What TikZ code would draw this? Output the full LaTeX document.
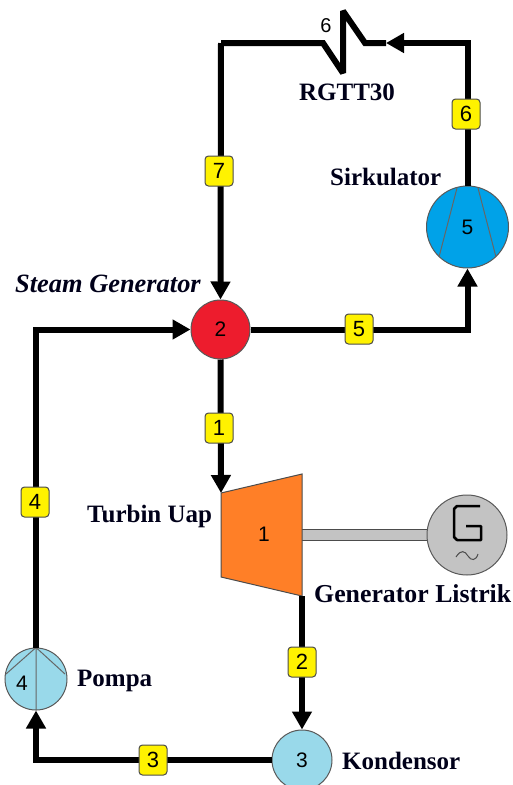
\documentclass[tikz,border=0pt]{standalone}
\usepackage{fontspec}
\setmainfont{Liberation Serif}
\newfontfamily\lsans{Liberation Sans}
\usetikzlibrary{arrows.meta}
\tikzset{
  x=1pt,y=-1pt,
  pipe/.style={line width=6pt,black,line join=miter},
  arrowed/.style={pipe,-{Triangle[length=18pt,width=19pt]}},
  unit/.style={circle,draw=black!65,line width=1pt,minimum size=#1,inner sep=0pt,font=\lsans\fontsize{21}{21}\selectfont},
  inner line/.style={draw=black!60,line width=1pt},
  tag/.style={draw=black!70,line width=1pt,fill=cYellow,rounded corners=3.5pt,minimum width=28pt,minimum height=30pt,inner sep=0pt,font=\lsans\fontsize{22}{22}\selectfont},
  captext/.style={font=\bfseries\fontsize{25}{25}\selectfont,text=black!90!blue,inner sep=0pt},
}
\definecolor{cRed}{RGB}{237,28,45}
\definecolor{cBlue}{RGB}{0,162,232}
\definecolor{cPale}{RGB}{153,217,234}
\definecolor{cOrange}{RGB}{255,127,39}
\definecolor{cGrey}{RGB}{195,195,195}
\definecolor{cYellow}{RGB}{255,242,0}
\begin{document}
\begin{tikzpicture}
\useasboundingbox (0,0) rectangle (512,785);
% shaft
\fill[cGrey] (302,529) rectangle (428,540);
\draw[black!70,line width=1pt] (302,529) -- (428,529) (302,540) -- (428,540);
% units
\node[unit=59pt,fill=cRed] (n2) at (220.5,329.5) {2};
\node[unit=82pt,fill=cBlue] (n5) at (467.5,227) {5};
\node[unit=60pt,fill=cPale] (n3) at (302,760) {3};
\node[unit=62pt,fill=cPale] (n4) at (36,679) {};
\node[unit=80pt,fill=cGrey] (gen) at (467,535) {};
% blades and symbols
\draw[inner line] (n5.center)+(-10.5,-39) -- +(-28.5,30) (n5.center)+(10.5,-39) -- +(28.5,30);
\draw[inner line] (n4.north) -- (n4.south) (n4.north) -- (6,674) (n4.north) -- (65,674);
\node[font=\lsans\fontsize{21}{21}\selectfont,inner sep=0pt] (n4label) at (22,683) {4};
\draw[black,line width=2.5pt,line join=round] (480,506) -- (457,506) -- (454,509) -- (454,537) -- (457,540) -- (481,540) -- (481,526) -- (466,526);
\draw[black!70,line width=1pt] (456,557) .. controls (461,549) and (465,551) .. (468,556) .. controls (471,561) and (476,561) .. (478,554);
% turbine
\coordinate (tl) at (221,493);
\coordinate (tr) at (302,474);
\coordinate (br) at (302,596);
\coordinate (bl) at (221,577);
\filldraw[fill=cOrange,draw=black!70,line width=1pt] (tl) -- (tr) -- (br) -- (bl) -- cycle;
\node[font=\lsans\fontsize{21}{21}\selectfont,inner sep=0pt] (n1) at (264,534) {1};
% zigzag and pipes
\coordinate (za) at (323,43);
\coordinate (zb) at (343,73);
\coordinate (zc) at (343,11);
\coordinate (zd) at (365,43);
\coordinate (zt) at (386,43);
\coordinate (ze) at (221,43);
\coordinate (zf) at (467.5,43);
\draw[pipe,miter limit=3] (zt) -- (zd) -- (zc) -- (zb) -- (za) -- (ze);
\draw[arrowed] (n5.north) -- (zf) -- (zt);
\draw[arrowed] (ze) -- (n2.north);
\draw[arrowed] (n2.east) -| (n5.south);
\draw[arrowed] (n4.north) |- (n2.west);
\draw[arrowed] (n2.south) -- (tl);
\draw[arrowed] (br) -- (n3.north);
\draw[arrowed] (n3.west) -| (n4.south);
% tags
\node[tag] (t7) at (219,171) {7};
\node[tag] (t6) at (466,114) {6};
\node[tag] (t5) at (359,329) {5};
\node[tag] (t1) at (219,428) {1};
\node[tag] (t4) at (35,502) {4};
\node[tag] (t2) at (302,662) {2};
\node[tag] (t3) at (153,760) {3};
% captions
\node[font=\lsans\fontsize{20}{20}\selectfont,inner sep=0pt] (z6) at (326,26) {6};
\node[captext] (c1) at (347,92) {RGTT30};
\node[captext,anchor=west] (c2) at (330,177) {Sirkulator};
\node[captext,anchor=west,font=\bfseries\itshape\fontsize{26.4}{26.4}\selectfont] (c3) at (15,284) {Steam Generator};
\node[captext,anchor=west] (c4) at (87,516) {Turbin Uap};
\node[captext,anchor=west,font=\bfseries\fontsize{25.8}{25.8}\selectfont] (c5) at (314,594) {Generator Listrik};
\node[captext,anchor=west] (c6) at (77,681) {Pompa};
\node[captext,anchor=west] (c7) at (342,761) {Kondensor};
\end{tikzpicture}
\end{document}
